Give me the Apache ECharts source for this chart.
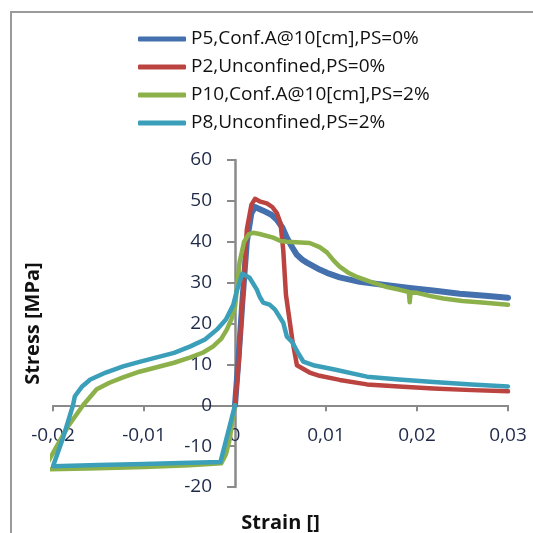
<!DOCTYPE html>
<html>
<head>
<meta charset="utf-8">
<script src="https://cdn.jsdelivr.net/npm/echarts@6/dist/echarts.min.js"></script>
<style>html,body{margin:0;padding:0;background:#fff}#c{width:533px;height:533px}</style>
</head>
<body>
<div id="c"></div>
<script>
const seriesNames = ["P5,Conf.A@10[cm],PS=0%", "P2,Unconfined,PS=0%", "P10,Conf.A@10[cm],PS=2%", "P8,Unconfined,PS=2%"];
const xTicks = [-0.02, -0.01, 0, 0.01, 0.02, 0.03];
const yTicks = [-20, -10, 0, 10, 20, 30, 40, 50, 60];

const p5 = [[0,0],[0.0004,12],[0.0008,25],[0.0013,40],[0.0018,47],[0.0022,48.5],[0.0031,47.6],[0.004,46.6],[0.0046,45.4],[0.0052,43.5],[0.0057,41],[0.0063,38.6],[0.0068,36.8],[0.0074,35.6],[0.0079,34.9],[0.0093,33.2],[0.0101,32.4],[0.0115,31.3],[0.0137,30.2],[0.0165,29.4],[0.0192,28.7],[0.022,28],[0.0247,27.3],[0.0275,26.8],[0.03,26.3]];
const p2 = [[0,0],[0.0004,10],[0.0009,28],[0.0013,43],[0.0018,49],[0.0022,50.5],[0.0028,49.8],[0.0035,49.4],[0.0041,48.5],[0.0046,47],[0.005,44.6],[0.0053,38],[0.0056,27],[0.0063,16],[0.0068,9.8],[0.0082,8],[0.0093,7.2],[0.0115,6.2],[0.0145,5.1],[0.018,4.6],[0.0218,4.1],[0.026,3.7],[0.03,3.4]];
const p10 = [[0,0],[-0.0003,-4],[-0.0006,-8.5],[-0.001,-12],[-0.0015,-14.2],[-0.005,-14.7],[-0.01,-15.1],[-0.015,-15.4],[-0.021,-15.7],[-0.0197,-10.5],[-0.0183,-5],[-0.0167,0],[-0.0152,3.9],[-0.0138,5.5],[-0.0123,6.8],[-0.0105,8.2],[-0.0086,9.3],[-0.0067,10.4],[-0.0049,11.7],[-0.0035,12.9],[-0.0024,14.4],[-0.0015,16.3],[-0.0009,18.5],[-0.0004,21],[0,24],[0.0005,35],[0.001,40],[0.0015,41.8],[0.002,42.2],[0.0027,41.9],[0.0042,41],[0.005,40.2],[0.0057,40],[0.0082,39.7],[0.0093,38.7],[0.0101,37.4],[0.0108,35.5],[0.0115,33.9],[0.0124,32.5],[0.0134,31.4],[0.015,30.1],[0.0167,28.9],[0.018,28.3],[0.0191,27.7],[0.0192,25.2],[0.0193,27.6],[0.02,27.5],[0.0215,26.7],[0.0229,26.1],[0.025,25.5],[0.0275,25.1],[0.03,24.6]];
const p8 = [[0,0],[-0.0016,-13.9],[-0.006,-14.1],[-0.01,-14.4],[-0.015,-14.6],[-0.02,-14.9],[-0.0189,-8],[-0.0178,0],[-0.0176,2.2],[-0.0168,4.6],[-0.0159,6.3],[-0.0142,8],[-0.0123,9.5],[-0.0105,10.6],[-0.0086,11.7],[-0.0067,12.8],[-0.0049,14.4],[-0.0033,16.1],[-0.002,18.5],[-0.001,21],[-0.0002,24.5],[0.0002,28],[0.0008,32.2],[0.0016,31.2],[0.0024,28.3],[0.0027,26.6],[0.0031,25.1],[0.0038,24.6],[0.0044,23.4],[0.0053,20.2],[0.0057,16.8],[0.0063,15.4],[0.0069,12.9],[0.0075,10.7],[0.0086,9.8],[0.0108,8.8],[0.0145,7],[0.018,6.3],[0.0218,5.7],[0.026,5.1],[0.03,4.6]];

const colors = ['#4470ad', '#bb4441', '#8db14a', '#3c9fb9'];
const widths = [6, 4.5, 4.5, 4.5];
const dataSets = [p5, p2, p10, p8];

const fmtX = v => Math.abs(v) < 1e-9 ? '0' : v.toFixed(2).replace('.', ',');
const FONT = 'Open Sans';

const W = 533, H = 533;
const G = {left: 53, right: 25, top: 160, bottom: 46};
const xMin = xTicks[0], xMax = xTicks[xTicks.length - 1];
const yMin = yTicks[0], yMax = yTicks[yTicks.length - 1];
const gw = W - G.left - G.right, gh = H - G.top - G.bottom;
// move the axes so that they cross at zero
const xAxisOffset = -gh * (0 - yMin) / (yMax - yMin);
const yAxisOffset = -gw * (0 - xMin) / (xMax - xMin);

const chart = echarts.init(document.getElementById('c'), null, {renderer: 'canvas'});
chart.setOption({
  animation: false,
  backgroundColor: '#fff',
  textStyle: {fontFamily: FONT},
  graphic: [{
    type: 'polyline',
    shape: {points: [[11, 533], [11, 12], [533, 12]]},
    style: {stroke: '#9a9a9a', lineWidth: 2, fill: null}
  }],
  legend: {
    orient: 'vertical',
    left: 138, top: 29, padding: 0,
    itemWidth: 48, itemHeight: 5, itemGap: 8,
    icon: 'roundRect',
    textStyle: {fontFamily: FONT, fontSize: 19, color: '#111', lineHeight: 20},
    data: seriesNames
  },
  grid: Object.assign({containLabel: false, outerBoundsMode: 'none'}, G),
  xAxis: {
    type: 'value', min: xMin, max: xMax, interval: 0.01,
    position: 'bottom', offset: xAxisOffset,
    name: 'Strain []', nameLocation: 'middle', nameGap: 108,
    nameTextStyle: {fontFamily: FONT, fontSize: 20, fontWeight: 'bold', color: '#111'},
    axisLine: {onZero: false, lineStyle: {color: '#8a8a8a', width: 2}},
    axisTick: {show: true, inside: false, length: 6, lineStyle: {color: '#8a8a8a', width: 2}},
    axisLabel: {formatter: fmtX, margin: 21, fontFamily: FONT, fontSize: 19, color: '#1f2a48'},
    splitLine: {show: false}
  },
  yAxis: {
    type: 'value', min: yMin, max: yMax, interval: 10,
    position: 'left', offset: yAxisOffset,
    name: 'Stress [MPa]', nameLocation: 'middle', nameGap: 192,
    nameTextStyle: {fontFamily: FONT, fontSize: 20, fontWeight: 'bold', color: '#111'},
    axisLine: {onZero: false, lineStyle: {color: '#8a8a8a', width: 2.5}},
    axisTick: {show: true, inside: false, length: 8, lineStyle: {color: '#8a8a8a', width: 2}},
    axisLabel: {margin: 23, fontFamily: FONT, fontSize: 19, color: '#1f2a48'},
    splitLine: {show: false}
  },
  series: seriesNames.map((n, i) => ({
    name: n, type: 'line', data: dataSets[i], showSymbol: false, symbol: 'none',
    smooth: false, clip: true,
    color: colors[i],
    lineStyle: {color: colors[i], width: widths[i], cap: 'round', join: 'round'},
    itemStyle: {color: colors[i]}
  }))
});
</script>
</body>
</html>
